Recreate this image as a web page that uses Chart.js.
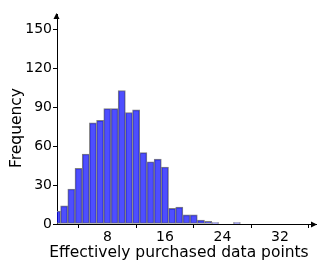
<!DOCTYPE html>
<html>
<head>
<meta charset="utf-8">
<script src="https://cdn.jsdelivr.net/npm/chart.js@4/dist/chart.umd.min.js"></script>
<style>
    html, body { margin: 0; padding: 0; background: #fff; }
    #wrap { width: 319px; height: 274px; }
</style>
</head>
<body>
<div id="wrap"><canvas id="chart"></canvas></div>
<script>
// histogram bins (centre of each 1-wide bin) and counts
const binCenters = [1, 2, 3, 4, 5, 6, 7, 8, 9, 10, 11, 12, 13, 14, 15, 16, 17, 18, 19, 20, 21, 22, 23, 24, 25, 26];
const counts = [10, 14, 27, 43, 54, 78, 80, 89, 89, 103, 86, 88, 55, 48, 50, 44, 12, 13, 7, 7, 3, 2, 1, 0, 0, 1];
const xTicks = [8, 16, 24, 32];
const yTicks = [0, 30, 60, 90, 120, 150];
const xLabel = 'Effectively purchased data points';
const yLabel = 'Frequency';

const FONT = 'DejaVu Sans';

const axisDecor = {
    id: 'axisDecor',
    afterDraw(chart) {
        const { ctx, chartArea } = chart;
        const { left, right, top, bottom } = chartArea;
        ctx.save();
        ctx.fillStyle = '#000';

        // arrow heads at the end of both axes
        ctx.beginPath();
        ctx.moveTo(right + 1, bottom + 0.5);
        ctx.lineTo(right - 5, bottom - 2.5);
        ctx.lineTo(right - 5, bottom + 3.5);
        ctx.closePath();
        ctx.fill();

        ctx.beginPath();
        ctx.moveTo(left - 0.5, top - 1);
        ctx.lineTo(left - 3.5, top + 5);
        ctx.lineTo(left + 2.5, top + 5);
        ctx.closePath();
        ctx.fill();

        // axis titles
        ctx.font = `15.5px "${FONT}"`;
        ctx.textAlign = 'center';
        ctx.textBaseline = 'alphabetic';
        ctx.fillText(xLabel, 179, 257);

        ctx.translate(21, 128);
        ctx.rotate(-Math.PI / 2);
        ctx.fillText(yLabel, 0, 0);
        ctx.restore();
    },
};

const ctx = document.getElementById('chart').getContext('2d');

new Chart(ctx, {
    type: 'bar',
    data: {
        datasets: [
            {
                data: binCenters.map((x, i) => ({ x, y: counts[i] })),
                backgroundColor: 'rgba(10, 10, 255, 0.72)',
                borderColor: '#808080',
                borderWidth: 1,
                borderSkipped: false,
                barPercentage: 1,
                categoryPercentage: 1,
            },
        ],
    },
    options: {
        responsive: true,
        maintainAspectRatio: false,
        animation: false,
        layout: {
            padding: { top: 14, right: 3, left: 0, bottom: 0 },
        },
        plugins: {
            legend: { display: false },
            tooltip: { enabled: false },
        },
        scales: {
            x: {
                type: 'linear',
                min: 1,
                max: 37,
                offset: false,
                afterFit(scale) {
                    scale.height = 50;
                },
                afterBuildTicks(scale) {
                    scale.ticks = xTicks.map((value) => ({ value }));
                },
                grid: {
                    drawOnChartArea: false,
                    drawTicks: true,
                    tickLength: 4,
                    tickColor: '#000',
                },
                border: { display: true, color: '#000', width: 1 },
                ticks: {
                    color: '#000',
                    padding: 1,
                    maxRotation: 0,
                    font: { family: FONT, size: 14 },
                },
            },
            y: {
                min: 0,
                max: 162,
                afterFit(scale) {
                    scale.width = 57;
                },
                afterBuildTicks(scale) {
                    scale.ticks = yTicks.map((value) => ({ value }));
                },
                grid: {
                    drawOnChartArea: false,
                    drawTicks: true,
                    tickLength: 4,
                    tickColor: '#000',
                },
                border: { display: true, color: '#000', width: 1 },
                ticks: {
                    color: '#000',
                    padding: 1,
                    font: { family: FONT, size: 14 },
                },
            },
        },
    },
    plugins: [axisDecor],
});
</script>
</body>
</html>
